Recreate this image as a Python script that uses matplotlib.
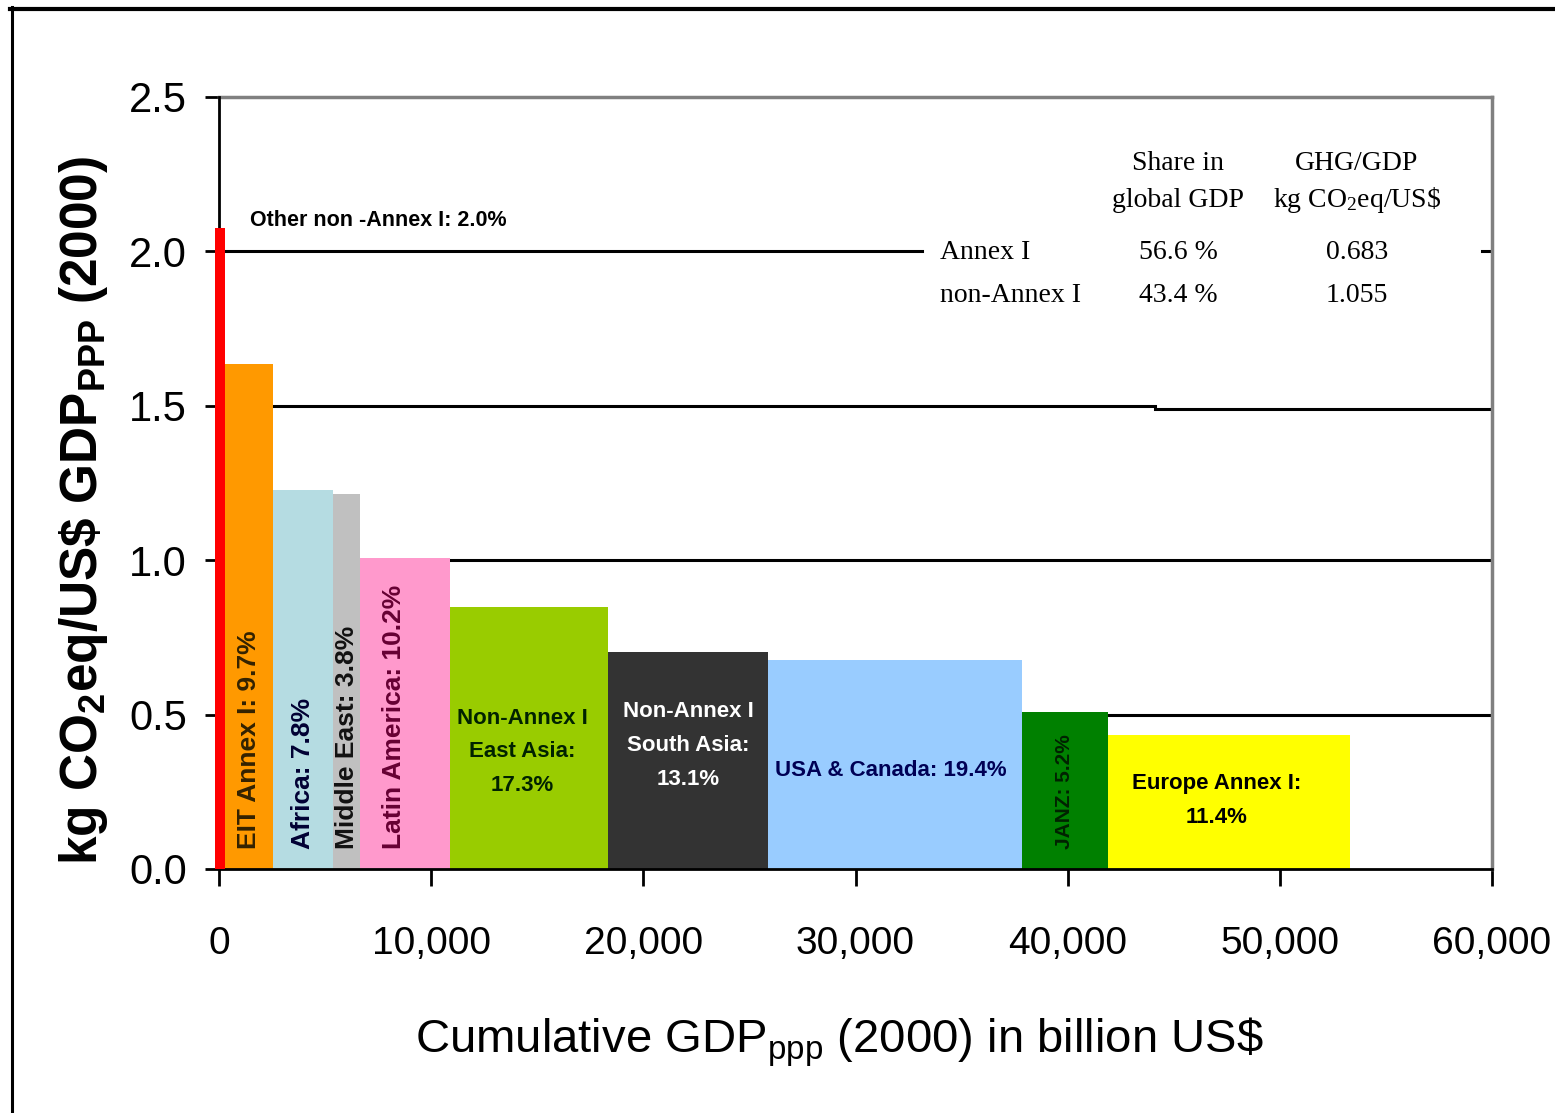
import matplotlib
matplotlib.use("Agg")
import matplotlib.pyplot as plt
from matplotlib.lines import Line2D
from matplotlib.ticker import FuncFormatter, MultipleLocator

plt.rcParams['mathtext.default'] = 'regular'

SANS = ['Liberation Sans', 'DejaVu Sans']
SERIF = ['Liberation Serif', 'DejaVu Serif']

# regions, left to right (width = GDP in billion US$, height = kg CO2eq/US$)
regions = ['Other non-Annex I', 'EIT Annex I', 'Africa', 'Middle East', 'Latin America',
           'Non-Annex I East Asia', 'Non-Annex I South Asia', 'USA & Canada', 'JANZ',
           'Europe Annex I']
gdp = [470, 2265, 2828, 1273, 4242, 7446, 7541, 11972, 4053, 11406]
intensity = [2.076, 1.635, 1.227, 1.214, 1.007, 0.848, 0.703, 0.677, 0.508, 0.434]
start = -190
colors = ['#ff0000', '#ff9900', '#b5dce2', '#c0c0c0', '#ff99cc',
          '#99cc00', '#333333', '#99ccff', '#008000', '#ffff00']

# labels inside the bars (share of emissions)
bar_labels = ['Other non -Annex I: 2.0%', 'EIT Annex I: 9.7%', 'Africa: 7.8%',
              'Middle East: 3.8%', 'Latin America: 10.2%', 'Non-Annex I\nEast Asia:\n17.3%',
              'Non-Annex I\nSouth Asia:\n13.1%', 'USA & Canada: 19.4%', 'JANZ: 5.2%',
              'Europe Annex I:\n11.4%']
label_colors = ['black', '#332200', '#000033', '#111111', '#660033',
                '#002200', 'white', '#000055', '#002200', 'black']

# summary table
table_rows = ['Annex I', 'non-Annex I']
gdp_share = ['56.6 %', '43.4 %']
ghg_gdp = ['0.683', '1.055']

lefts = []
x = start
for w in gdp:
    lefts.append(x)
    x += w
centers = [l + w / 2 for l, w in zip(lefts, gdp)]

fig = plt.figure(figsize=(15.55, 11.13), dpi=100)
ax = fig.add_axes([219 / 1555, 1 - 869 / 1113, 1273 / 1555, 772 / 1113])

# horizontal lines
ax.axhline(2.0, xmin=0, xmax=0.552, color='black', lw=2.2, zorder=1)
ax.axhline(2.0, xmin=0.992, xmax=1, color='black', lw=2.2, zorder=1)
ax.axhline(1.5, xmin=0, xmax=0.735, color='black', lw=2.2, zorder=1)
ax.axhline(1.49, xmin=0.735, xmax=1, color='black', lw=2.2, zorder=1)
ax.axhline(1.0, color='black', lw=2.2, zorder=1)
ax.axhline(0.5, color='black', lw=2.2, zorder=1)

ax.bar(lefts[1:], intensity[1:], width=gdp[1:], align='edge',
       color=colors[1:], linewidth=0, zorder=2)
ax.bar(lefts[0], intensity[0], width=gdp[0], align='edge', color=colors[0],
       linewidth=0, zorder=6, clip_on=False)

# vertical labels
for i in [1, 2, 3, 4, 8]:
    dx = -500 if i == 4 else 0
    fs = 15 if i == 8 else 19
    ax.text(centers[i] + dx, 0.065, bar_labels[i], rotation=90, ha='center', va='bottom',
            fontsize=fs, fontweight='bold', family=SANS, color=label_colors[i], zorder=4)

# horizontal labels
hl = dict(ha='center', va='center', fontsize=16, fontweight='bold', family=SANS,
          linespacing=1.8, zorder=4)
ax.text(centers[5] - 300, 0.379, bar_labels[5], color=label_colors[5], **hl)
ax.text(centers[6], 0.40, bar_labels[6], color=label_colors[6], **hl)
ax.text(centers[7] - 200, 0.32, bar_labels[7], color=label_colors[7], **hl)
ax.text(centers[9] - 600, 0.223, bar_labels[9], color=label_colors[9], **hl)
ax.text(1460, 2.10, bar_labels[0], ha='left', va='center', fontsize=15.5,
        fontweight='bold', family=SANS, color=label_colors[0], zorder=4)

# table
col1, col2 = 45200, 53640
ax.text(col1, 2.286, 'Share in', ha='center', va='center', fontsize=20, family=SERIF)
ax.text(col1, 2.166, 'global GDP', ha='center', va='center', fontsize=20, family=SERIF)
ax.text(col2, 2.286, 'GHG/GDP', ha='center', va='center', fontsize=20, family=SERIF)
ax.text(col2, 2.166, 'kg CO$_2$eq/US\\$', ha='center', va='center', fontsize=20, family=SERIF)
for r, (name, share, ghg) in enumerate(zip(table_rows, gdp_share, ghg_gdp)):
    y = 1.995 - r * 0.139
    ax.text(33980, y, name, ha='left', va='center', fontsize=20, family=SERIF)
    ax.text(col1, y, share, ha='center', va='center', fontsize=20, family=SERIF)
    ax.text(col2, y, ghg, ha='center', va='center', fontsize=20, family=SERIF)

ax.set_xlim(0, 60000)
ax.set_ylim(0, 2.5)
ax.xaxis.set_major_locator(MultipleLocator(10000))
ax.yaxis.set_major_locator(MultipleLocator(0.5))
ax.xaxis.set_major_formatter(FuncFormatter(lambda v, p: '{:,.0f}'.format(v)))
ax.yaxis.set_major_formatter(FuncFormatter(lambda v, p: '{:.1f}'.format(v)))
ax.tick_params(axis='x', direction='out', length=12, width=2, pad=29, labelsize=28)
ax.tick_params(axis='y', direction='out', length=10, width=2, pad=13, labelsize=30)
for lab in ax.get_xticklabels() + ax.get_yticklabels():
    lab.set_family(SANS)

for side in ['left', 'bottom']:
    ax.spines[side].set_color('black')
    ax.spines[side].set_linewidth(2)
    ax.spines[side].set_zorder(5)
for side in ['top', 'right']:
    ax.spines[side].set_color('#808080')
    ax.spines[side].set_linewidth(2.5)

ax.set_xlabel('Cumulative GDP$_{ppp}$ (2000) in billion US\\$', fontsize=34, family=SANS)
ax.xaxis.set_label_coords(0.487, -0.19)
ax.set_ylabel('kg CO$_2$eq/US\\$ GDP$_{PPP}$ (2000)', fontsize=37,
              fontweight='bold', family=SANS)
ax.yaxis.set_label_coords(-0.086, 0.465)

# outer frame
fig.add_artist(Line2D([10 / 1555, 1], [1 - 8.5 / 1113, 1 - 8.5 / 1113],
                      transform=fig.transFigure, color='black', lw=3))
fig.add_artist(Line2D([11.5 / 1555, 11.5 / 1555], [0, 1 - 7 / 1113],
                      transform=fig.transFigure, color='black', lw=2.2))

fig.savefig('out.png', dpi=100)
